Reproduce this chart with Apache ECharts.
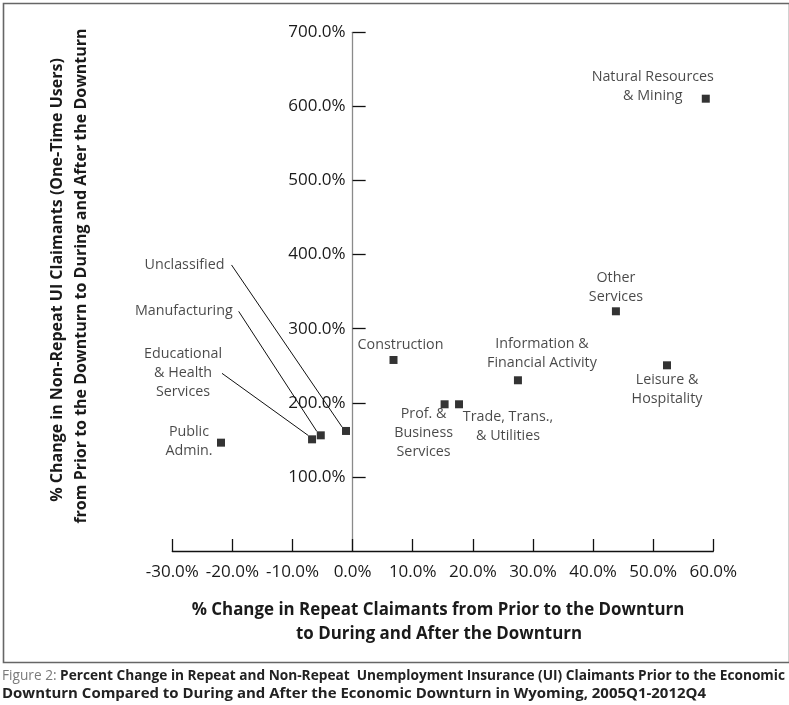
<!DOCTYPE html>
<html>
<head>
<meta charset="utf-8">
<script src="https://cdn.jsdelivr.net/npm/echarts@6/dist/echarts.min.js"></script>
<style>
html,body{margin:0;padding:0;background:#fff;}
#chart{width:789px;height:705px;}
</style>
</head>
<body>
<div id="chart"></div>
<script>
// Industry categories
const categories = [
  'Natural Resources\n& Mining',
  'Other\nServices',
  'Leisure &\nHospitality',
  'Information &\nFinancial Activity',
  'Construction',
  'Prof. &\nBusiness\nServices',
  'Trade, Trans.,\n& Utilities',
  'Public\nAdmin.',
  'Unclassified',
  'Manufacturing',
  'Educational\n& Health\nServices'
];
// % change in repeat claimants (x)
const repeatChange = [58.75, 43.8, 52.3, 27.5, 6.8, 15.3, 17.7, -21.9, -1.1, -5.3, -6.75];
// % change in non-repeat claimants (y)
const nonRepeatChange = [610.4, 323.5, 250.6, 230.4, 257.8, 198.0, 198.0, 146.2, 162.0, 156.1, 150.7];
// whether the label is attached with a leader line
const leader = [false, false, false, false, false, false, false, false, true, true, true];
// label offsets (px) relative to marker
const labelDX = [-53, 0, 0, 24, 7, -21, 49, -32, -158, -134, -129];
const labelDY = [-12, -24, 24, -27, -15, 29, 22, -1, -166, -124, -66];
// extra gap (px) between the label text and its leader line
const leaderGap = [0, 0, 0, 0, 0, 0, 0, 0, 7, 6, 0];

const xTicks = {min: -30, max: 60, interval: 10};
const yTicks = {min: 0, max: 700, interval: 100};

const FONT = '"Open Sans", "Noto Sans", sans-serif';
const TXT = '#1a1a1a';

const W = 789, H = 705;
const gridL = 172.3, gridR = 75.7, gridT = 32.3, gridB = 154;
const gridW = W - gridL - gridR;
// y axis crosses the x axis at x = 0
const yAxisOffset = -((0 - xTicks.min) / (xTicks.max - xTicks.min)) * gridW;

function buildData(useLeader) {
  const out = [];
  for (let i = 0; i < categories.length; i++) {
    if (leader[i] === useLeader) {
      const item = {value: [repeatChange[i], nonRepeatChange[i]], name: categories[i], idx: i};
      if (leaderGap[i]) item.label = {padding: [0, leaderGap[i], 0, 0]};
      out.push(item);
    }
  }
  return out;
}
const plainData = buildData(false);
const leaderData = buildData(true);

function layoutFor(data) {
  return function (params) {
    const i = data[params.dataIndex].idx;
    return {dx: labelDX[i], dy: labelDY[i]};
  };
}

const labelStyle = {
  show: true,
  position: 'inside',
  formatter: p => p.name,
  color: TXT,
  fontFamily: FONT,
  fontSize: 14.3,
  lineHeight: 19,
  align: 'center'
};

// caption text, condensed to fit the width
const capA = 'Figure 2: ';
const capB1 = 'Percent Change in Repeat and Non-Repeat  Unemployment Insurance (UI) Claimants Prior to the Economic';
const capB2 = 'Downturn Compared to During and After the Economic Downturn in Wyoming, 2005Q1-2012Q4';
const CAP_FONT = '"Open Sans", sans-serif';
const capSize = 14;
const mctx = document.createElement('canvas').getContext('2d');
mctx.font = capSize + 'px ' + CAP_FONT;
const wA = mctx.measureText(capA).width;
mctx.font = 'bold ' + capSize + 'px ' + CAP_FONT;
const wB1 = mctx.measureText(capB1).width;
const wB2 = mctx.measureText(capB2).width;
const capScale1 = 783 / (wA + wB1);
const capScale2 = 704 / wB2;

const chart = echarts.init(document.getElementById('chart'), null, {renderer: 'canvas'});
chart.setOption({
  animation: false,
  backgroundColor: '#fff',
  grid: {left: gridL, right: gridR, top: gridT, bottom: gridB, containLabel: false},
  xAxis: {
    type: 'value',
    min: xTicks.min, max: xTicks.max, interval: xTicks.interval,
    axisLine: {show: true, onZero: true, lineStyle: {color: '#111', width: 1.3}},
    axisTick: {show: true, inside: true, length: 12, lineStyle: {color: '#111', width: 1.3}},
    splitLine: {show: false},
    axisLabel: {
      formatter: v => v.toFixed(1) + '%',
      color: TXT, fontFamily: FONT, fontSize: 17, margin: 13
    }
  },
  yAxis: {
    type: 'value',
    position: 'left',
    offset: yAxisOffset,
    min: yTicks.min, max: yTicks.max, interval: yTicks.interval,
    axisLine: {show: true, onZero: false, lineStyle: {color: '#8a8a8a', width: 1.3}},
    axisTick: {show: true, inside: true, length: 13, lineStyle: {color: '#111', width: 1.3}},
    splitLine: {show: false},
    axisLabel: {
      showMinLabel: false,
      formatter: v => v.toFixed(1) + '%',
      color: TXT, fontFamily: FONT, fontSize: 17, margin: 7
    }
  },
  title: [
    {
      text: '% Change in Repeat Claimants from Prior to the Downturn',
      left: 433, top: 597, textAlign: 'center',
      textStyle: {fontFamily: FONT, fontWeight: 'bold', fontSize: 16.9, color: TXT}
    },
    {
      text: 'to During and After the Downturn',
      left: 434, top: 621, textAlign: 'center',
      textStyle: {fontFamily: FONT, fontWeight: 'bold', fontSize: 16.9, color: TXT}
    }
  ],
  graphic: [
    {
      type: 'rect', left: 1, top: 1, silent: true,
      shape: {width: 786, height: 659},
      style: {fill: 'none', stroke: '#666', lineWidth: 1.6}
    },
    {
      type: 'text', x: 57, y: 280, rotation: Math.PI / 2,
      style: {
        text: '% Change in Non-Repeat UI Claimants (One-Time Users)',
        fontFamily: FONT, fontWeight: 'bold', fontSize: 16, fill: TXT,
        align: 'center', verticalAlign: 'middle'
      }
    },
    {
      type: 'text', x: 81, y: 276, rotation: Math.PI / 2,
      style: {
        text: 'from Prior to the Downturn to During and After the Downturn',
        fontFamily: FONT, fontWeight: 'bold', fontSize: 16, fill: TXT,
        align: 'center', verticalAlign: 'middle'
      }
    },
    {
      type: 'text', x: 2, y: 676, scaleX: capScale1,
      style: {
        text: '{a|' + capA + '}{b|' + capB1 + '}',
        verticalAlign: 'middle', align: 'left',
        rich: {
          a: {fontFamily: CAP_FONT, fontSize: capSize, fill: '#7a7a7a'},
          b: {fontFamily: CAP_FONT, fontWeight: 'bold', fontSize: capSize, fill: '#222'}
        }
      }
    },
    {
      type: 'text', x: 2, y: 694, scaleX: capScale2,
      style: {
        text: capB2,
        verticalAlign: 'middle', align: 'left',
        fontFamily: CAP_FONT, fontWeight: 'bold', fontSize: capSize, fill: '#222'
      }
    }
  ],
  series: [
    {
      type: 'scatter',
      symbol: 'rect', symbolSize: 8,
      itemStyle: {color: '#000'},
      data: plainData,
      label: labelStyle,
      labelLayout: layoutFor(plainData)
    },
    {
      type: 'scatter',
      symbol: 'rect', symbolSize: 8,
      itemStyle: {color: '#000'},
      data: leaderData,
      label: labelStyle,
      labelLine: {show: true, lineStyle: {color: '#111', width: 1}},
      labelLayout: layoutFor(leaderData)
    }
  ]
});
</script>
</body>
</html>
